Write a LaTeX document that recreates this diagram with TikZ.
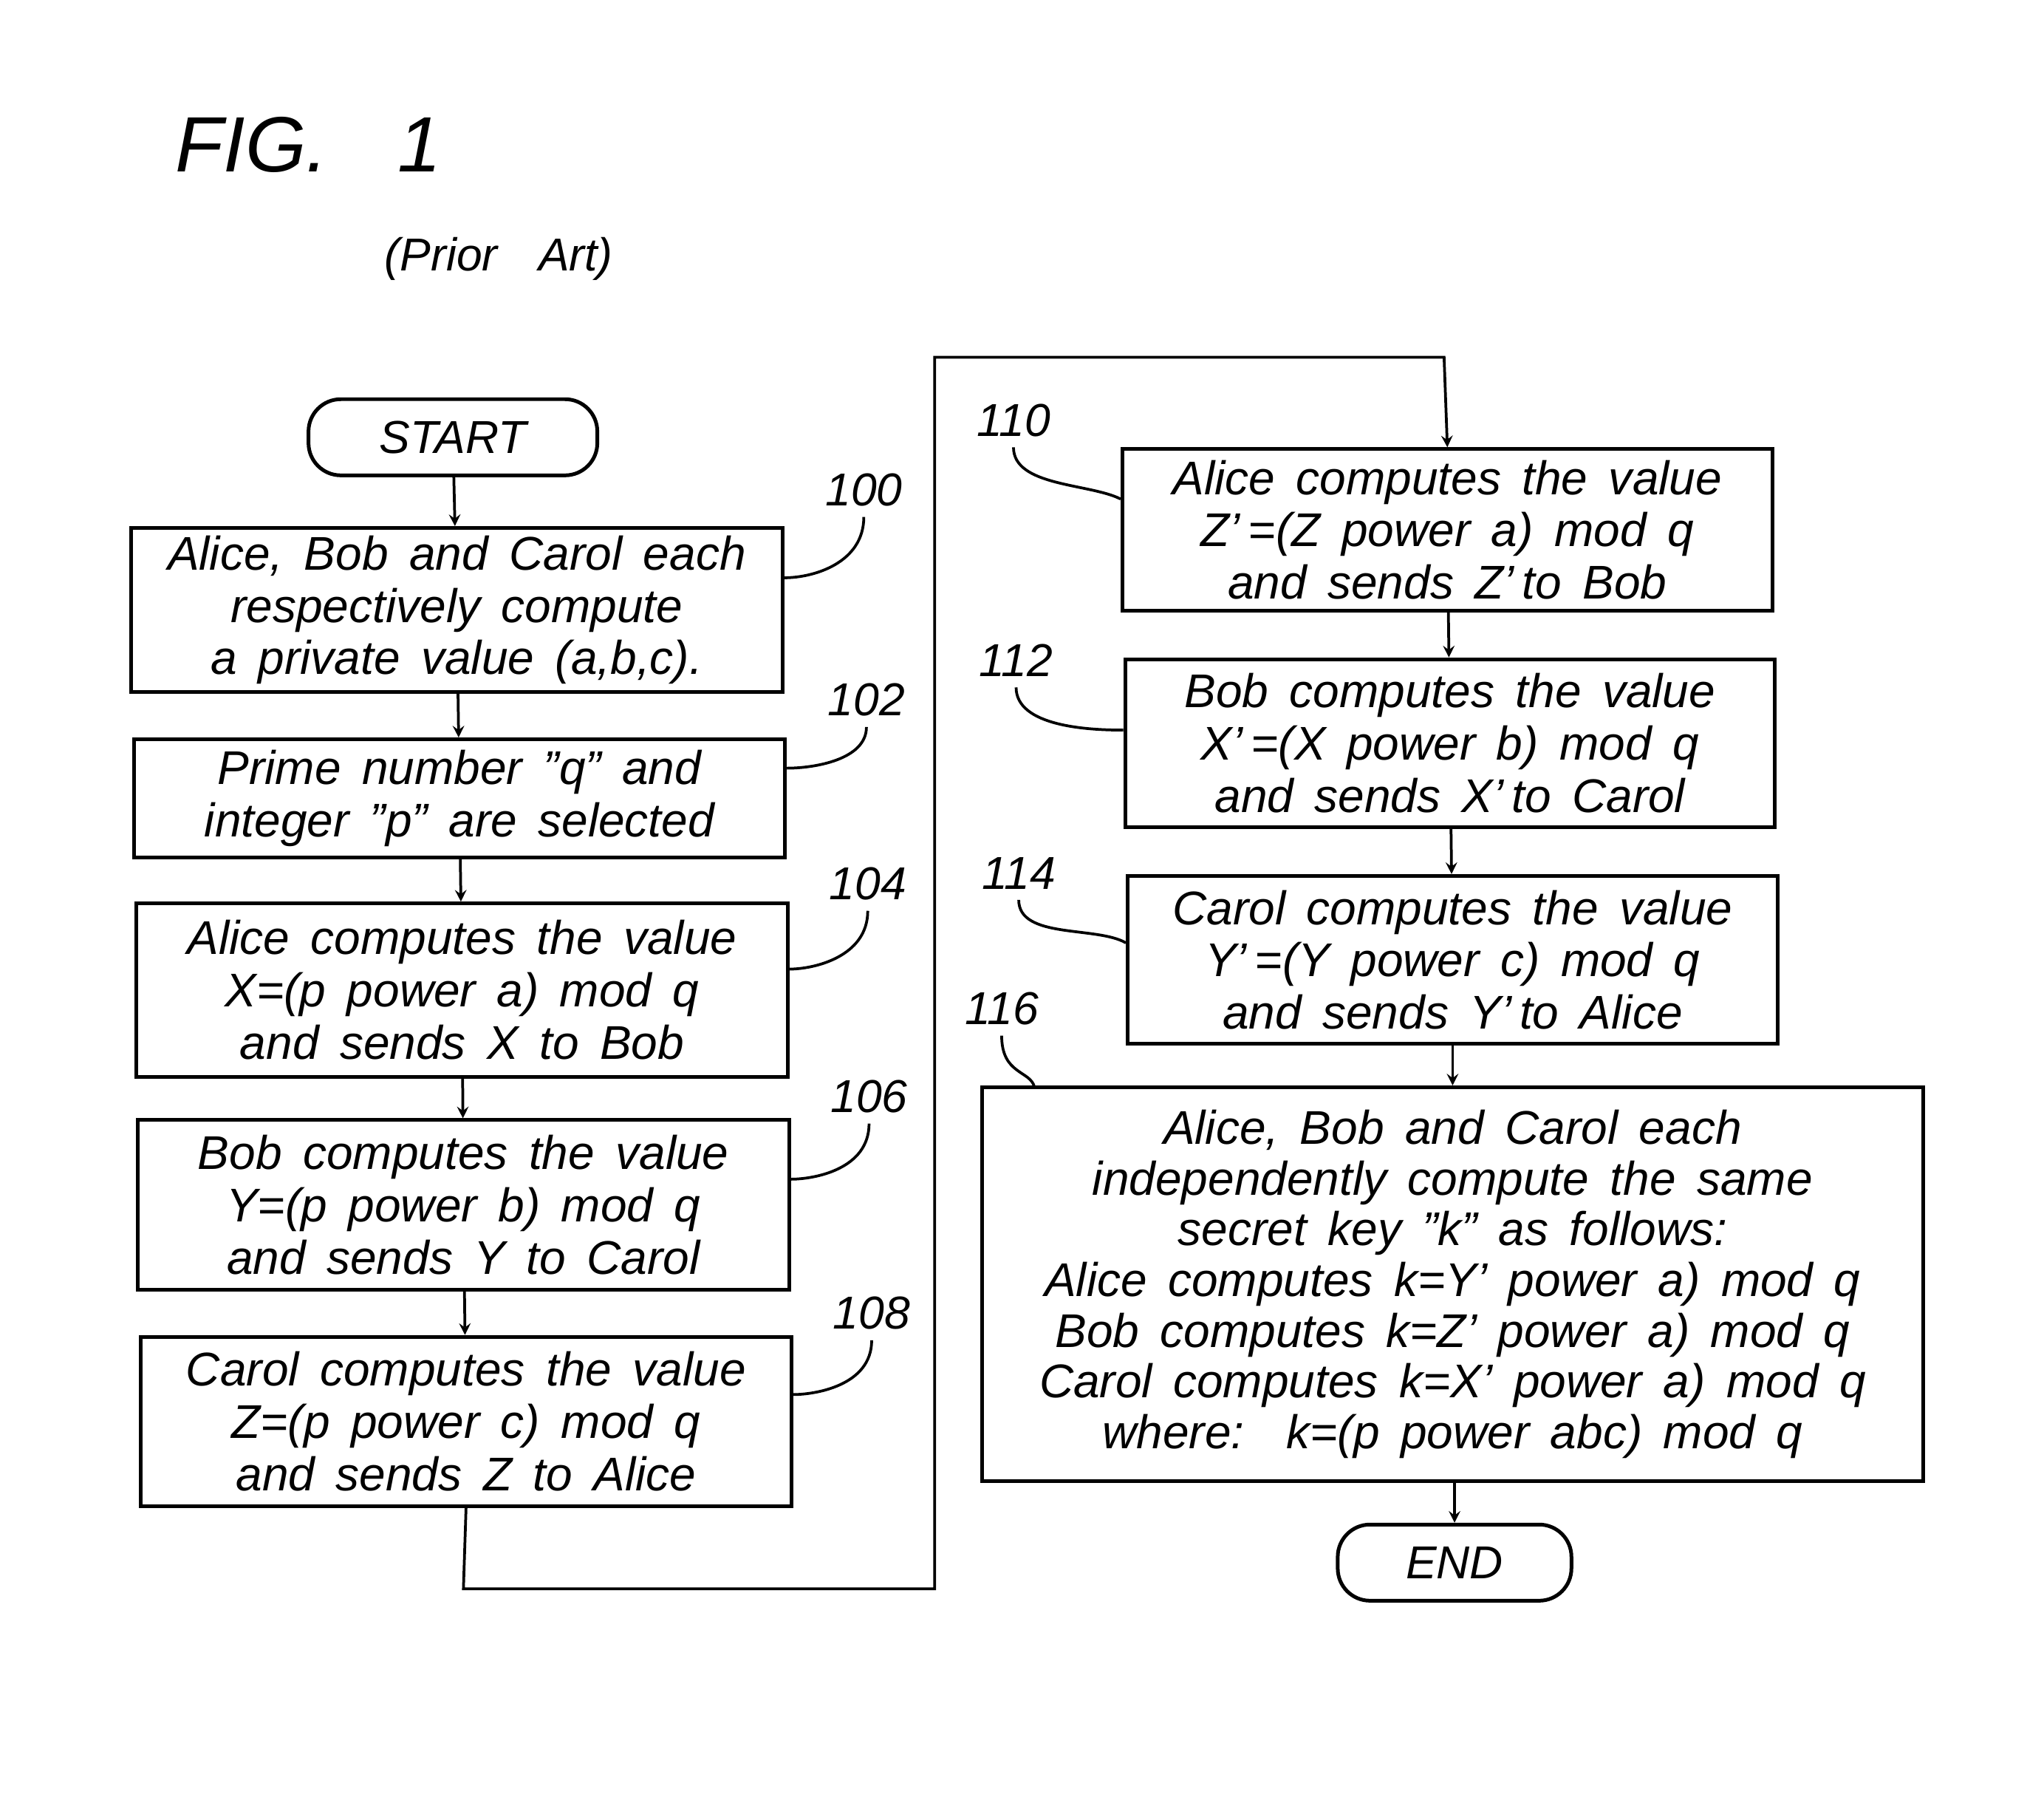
\documentclass[tikz,border=0pt]{standalone}
\usepackage{fontspec}
\setmainfont{Liberation Sans}[WordSpace={1.6,0.5,0.3}]
\begin{document}
\begin{tikzpicture}[x=0.02cm,y=-0.02cm,
 box/.style={draw,line width=1.6pt,align=center,font=\fontsize{20.5}{22.7}\selectfont\itshape,inner sep=0pt},
 term/.style={draw,line width=1.6pt,rounded corners=14pt,font=\fontsize{20}{22.7}\selectfont\itshape,inner sep=0pt},
 lab/.style={font=\fontsize{20}{24}\selectfont\itshape},
 ln/.style={line width=1.2pt},
 arr/.style={line width=1.2pt,->,>=stealth}]
\useasboundingbox (0,0) rectangle (1557,1368);
\node[font=\fontsize{34}{40}\selectfont\itshape] (fig) at (235,110) {FIG.\ \ 1};
\node[lab] (pa) at (380,197) {(Prior\ \ Art)};
\node[term,minimum width=220*0.02cm,minimum height=58*0.02cm] (start) at (345,333) {START};
\node[box,minimum width=496*0.02cm,minimum height=125*0.02cm] (b100) at (348,464.5) {Alice,\ Bob\ and\ Carol\ each\\respectively\ compute\\a\ private\ value\ (a,b,c).};
\node[box,minimum width=496*0.02cm,minimum height=90*0.02cm] (b102) at (350,608) {Prime\ number\ "q"\ and\\integer\ "p"\ are\ selected};
\node[box,minimum width=496*0.02cm,minimum height=132*0.02cm] (b104) at (352,754) {Alice\ computes\ the\ value\\X=(p\ power\ a)\ mod\ q\\and\ sends\ X\ to\ Bob};
\node[box,minimum width=496*0.02cm,minimum height=129*0.02cm] (b106) at (353,917.5) {Bob\ computes\ the\ value\\Y=(p\ power\ b)\ mod\ q\\and\ sends\ Y\ to\ Carol};
\node[box,minimum width=496*0.02cm,minimum height=129*0.02cm] (b108) at (355,1082.5) {Carol\ computes\ the\ value\\Z=(p\ power\ c)\ mod\ q\\and\ sends\ Z\ to\ Alice};
\node[box,minimum width=495*0.02cm,minimum height=123*0.02cm] (b110) at (1102.5,403.5) {Alice\ computes\ the\ value\\Z'\,=(Z\ power\ a)\ mod\ q\\and\ sends\ Z'\,to\ Bob};
\node[box,minimum width=495*0.02cm,minimum height=128*0.02cm] (b112) at (1104.5,566) {Bob\ computes\ the\ value\\X'\,=(X\ power\ b)\ mod\ q\\and\ sends\ X'\,to\ Carol};
\node[box,minimum width=495*0.02cm,minimum height=128*0.02cm] (b114) at (1106.5,731) {Carol\ computes\ the\ value\\Y'\,=(Y\ power\ c)\ mod\ q\\and\ sends\ Y'\,to\ Alice};
\node[box,minimum width=717*0.02cm,minimum height=300*0.02cm,font=\fontsize{20.5}{22}\selectfont\itshape] (b116) at (1106.5,978) {Alice,\ Bob\ and\ Carol\ each\\independently\ compute\ the\ same\\secret\ key\ "k"\ as\ follows:\\Alice\ computes\ k=Y'\ power\ a)\ mod\ q\\Bob\ computes\ k=Z'\ power\ a)\ mod\ q\\Carol\ computes\ k=X'\ power\ a)\ mod\ q\\where:\ \ k=(p\ power\ abc)\ mod\ q};
\node[term,minimum width=178*0.02cm,minimum height=58*0.02cm] (end) at (1108,1190) {END};
\draw[arr] (start) -- (b100);
\draw[arr] (b100) -- (b102);
\draw[arr] (b102) -- (b104);
\draw[arr] (b104) -- (b106);
\draw[arr] (b106) -- (b108);
\coordinate (c1) at (353,1210); \coordinate (c2) at (712,1210);
\coordinate (c3) at (712,272); \coordinate (c4) at (1100,272);
\draw[arr] (b108.south) -- (c1) -- (c2) -- (c3) -- (c4) -- (b110.north);
\draw[arr] (b110) -- (b112);
\draw[arr] (b112) -- (b114);
\draw[arr] (b114.south) -- (b116.north -| b114.south);
\draw[arr] (b116.south -| end.north) -- (end);
\node[lab] (l100) at (658,373) {100};
\node[lab] (l102) at (660,533) {102};
\node[lab] (l104) at (661,673) {104};
\node[lab] (l106) at (662,835) {106};
\node[lab] (l108) at (664,1000) {108};
\node[lab] (l110) at (772,320) {110};
\node[lab] (l112) at (774,503) {112};
\node[lab] (l114) at (776,665) {114};
\node[lab] (l116) at (763,768) {116};
\draw[ln] (l100.south) ++(0,2) .. controls +(0,35) and (620,440) .. (b100.east |- 0,440);
\draw[ln] (l102.south) ++(0,2) .. controls +(0,25) and (620,585) .. (b102.east |- 0,585);
\draw[ln] (l104.south) ++(0,2) .. controls +(0,35) and (620,738) .. (b104.east |- 0,738);
\draw[ln] (l106.south) ++(0,2) .. controls +(0,35) and (620,898) .. (b106.east |- 0,898);
\draw[ln] (l108.south) ++(0,2) .. controls +(0,35) and (620,1062) .. (b108.east |- 0,1062);
\draw[ln] (l110.south) ++(0,2) .. controls +(0,30) and (830,368) .. (b110.west |- 0,380);
\draw[ln] (l112.south) ++(0,2) .. controls +(0,30) and (830,556) .. (b112.west |- 0,556);
\draw[ln] (l114.south) ++(0,2) .. controls +(0,30) and (835,705) .. (b114.west |- 0,718);
\draw[ln] (l116.south) ++(0,2) .. controls +(0,30) and (785,815) .. (788,828);
\end{tikzpicture}
\end{document}
